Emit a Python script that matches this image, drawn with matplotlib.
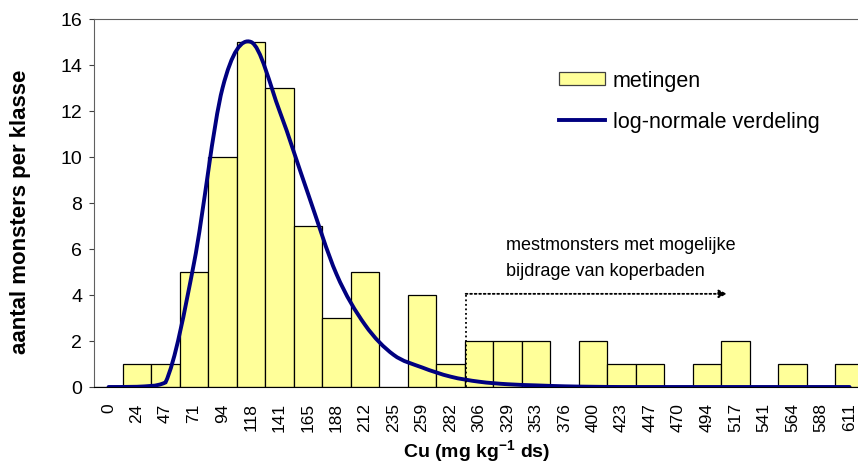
import numpy as np
import matplotlib
matplotlib.use("Agg")
import matplotlib.pyplot as plt
from matplotlib.path import Path
from matplotlib.patches import PathPatch, Patch
from matplotlib.lines import Line2D

plt.rcParams["font.family"] = ["Liberation Sans", "DejaVu Sans"]

# class midpoints (mg/kg ds) and observed counts per class
klassen = ["0", "24", "47", "71", "94", "118", "141", "165", "188", "212",
           "235", "259", "282", "306", "329", "353", "376", "400", "423",
           "447", "470", "494", "517", "541", "564", "588", "611"]
metingen = [0, 1, 1, 5, 10, 15, 13, 7, 3, 5, 0, 4, 1, 2, 2, 2, 0, 2, 1, 1,
            0, 1, 2, 0, 1, 0, 1]
# fitted log-normal, expected counts per class
lognormaal = [0.0, 0.01, 0.2, 5.4, 13.0, 15.0, 12.0, 8.4, 4.9, 2.7, 1.4,
              0.85, 0.45, 0.23, 0.12, 0.07, 0.03, 0.01, 0, 0, 0, 0, 0, 0,
              0, 0, 0]

GEEL = "#FFFF99"
BLAUW = "#000080"


def smooth_path(x, y):
    """Bezier path through the points (spreadsheet-style smoothed line)."""
    p = np.column_stack([x, y]).astype(float)
    pad = np.vstack([p[0], p, p[-1]])
    verts = [p[0]]
    codes = [Path.MOVETO]
    for i in range(len(p) - 1):
        p0, p1, p2, p3 = pad[i], pad[i + 1], pad[i + 2], pad[i + 3]
        c1 = p1 + (p2 - p0) / 6.0
        c2 = p2 - (p3 - p1) / 6.0
        # counts can't go negative: keep the handles above zero
        c1[1] = max(c1[1], 0.0)
        c2[1] = max(c2[1], 0.0)
        verts += [c1, c2, p2]
        codes += [Path.CURVE4] * 3
    return Path(verts, codes)


fig = plt.figure(figsize=(8.58, 4.64), dpi=100)
ax = fig.add_axes([0.1099, 0.1638, 0.8969, 0.7931])

x = np.arange(len(klassen))
ax.bar(x, metingen, width=1.0, color=GEEL, edgecolor="black", linewidth=0.9,
       zorder=2)
ax.add_patch(PathPatch(smooth_path(x, lognormaal), facecolor="none",
                       edgecolor=BLAUW, linewidth=2.8, zorder=3,
                       capstyle="round"))

ax.set_xlim(-0.5, len(klassen) - 0.5)
ax.set_ylim(0, 16)
ax.set_yticks(range(0, 17, 2))
ax.set_xticks(x)
ax.set_xticklabels(klassen, rotation=90, fontsize=12.5)
ax.tick_params(axis="y", labelsize=14, length=3.6, width=0.8,
               color="#404040", pad=5)
ax.tick_params(axis="x", length=0, pad=11)

for s in ("left", "top"):
    ax.spines[s].set_color("#606060")
ax.spines["bottom"].set_color("black")
ax.spines["right"].set_visible(False)

ax.set_ylabel("aantal monsters per klasse", fontsize=16, fontweight="bold",
              va="center")
ax.yaxis.set_label_coords(-0.0964, 0.478)
ax.set_xlabel("Cu (mg kg$^{\\mathregular{-1}}$ ds)", fontsize=14,
              fontweight="bold", va="center")
ax.xaxis.set_label_coords(0.497, -0.172)

# samples above ~300 mg/kg: possibly influenced by copper foot baths
ax.plot([12.53, 12.53], [0, 4.05], ls=(0, (1, 1.5)), color="black", lw=1.3,
        zorder=4)
ax.annotate("", xy=(21.7, 4.05), xytext=(12.53, 4.05),
            arrowprops=dict(arrowstyle="-|>", linestyle=(0, (1, 1.5)),
                            color="black", lw=1.3, mutation_scale=12,
                            shrinkA=0, shrinkB=0), zorder=4)
ax.text(13.95, 6.2, "mestmonsters met mogelijke", fontsize=13, va="center",
        ha="left")
ax.text(13.95, 5.08, "bijdrage van koperbaden", fontsize=13, va="center",
        ha="left")

handles = [Patch(facecolor=GEEL, edgecolor="#404040", linewidth=0.9),
           Line2D([], [], color=BLAUW, linewidth=2.8)]
fig.legend(handles, ["metingen", "log-normale verdeling"], loc="upper left",
           bbox_to_anchor=(0.642, 0.866), frameon=False, fontsize=15.5,
           handlelength=2.1, handleheight=0.56, handletextpad=0.37,
           labelspacing=0.93, borderaxespad=0)

fig.savefig("out.png", dpi=100)
